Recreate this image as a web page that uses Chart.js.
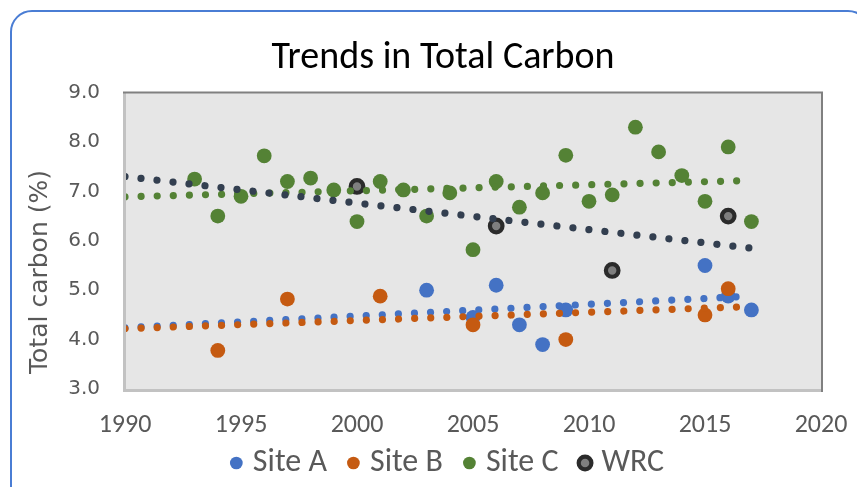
<!DOCTYPE html>
<html><head><meta charset="utf-8">
<script src="https://cdn.jsdelivr.net/npm/chart.js@4.4.1/dist/chart.umd.min.js"></script>
<style>
html,body{margin:0;padding:0;background:#fff;overflow:hidden;width:857px;height:487px;}
#card{position:absolute;left:10px;top:10px;width:860px;height:500px;border:2px solid #4A7DD4;border-radius:22px;box-sizing:border-box;}
#wrap{position:absolute;left:0;top:0;width:857px;height:507px;}
</style></head>
<body><div id="card"></div><div id="wrap"><canvas id="c" width="857" height="507"></canvas></div>
<script>
// ---- data ----
const chartTitle = "Trends in Total Carbon";
const yAxisTitle = "Total carbon (%)";
const seriesNames = ["Site A", "Site B", "Site C", "WRC"];

const siteAYears  = [2003, 2005, 2006, 2007, 2008, 2009, 2015, 2016, 2017];
const siteAValues = [5.0, 4.45, 5.1, 4.3, 3.9, 4.6, 5.5, 4.88, 4.6];

const siteBYears  = [1994, 1997, 2001, 2005, 2009, 2015, 2016];
const siteBValues = [3.78, 4.82, 4.88, 4.3, 4.0, 4.5, 5.03];

const siteCYears  = [1993, 1994, 1995, 1996, 1997, 1998, 1999, 2000, 2001, 2002, 2003, 2004, 2005,
                     2006, 2007, 2008, 2009, 2010, 2011, 2012, 2013, 2014, 2015, 2016, 2017];
const siteCValues = [7.25, 6.5, 6.9, 7.72, 7.2, 7.27, 7.03, 6.39, 7.2, 7.03, 6.5, 6.97, 5.82,
                     7.2, 6.68, 6.97, 7.73, 6.8, 6.93, 8.3, 7.8, 7.32, 6.8, 7.9, 6.39];

const wrcYears  = [2000, 2006, 2011, 2016];
const wrcValues = [7.1, 6.3, 5.4, 6.5];

// linear trendlines (endpoints)
const trendYears  = [1990, 2017];
const trendA      = [4.24, 4.88];
const trendB      = [4.22, 4.67];
const trendC      = [6.89, 7.22];
const trendWRC    = [7.30, 5.85];

const xTicks = [1990, 1995, 2000, 2005, 2010, 2015, 2020];
const yTicks = [3, 4, 5, 6, 7, 8, 9];

// ---- styling ----
const COL = { A: "#4472C4", B: "#C55A11", C: "#548235", W: "#333F50" };
const CAL = "Carlito, Lato, sans-serif";
const pts = (xs, ys) => xs.map((x, i) => ({ x, y: ys[i] }));

function scatterSet(label, xs, ys, color, order) {
  return { type: "scatter", label, data: pts(xs, ys), backgroundColor: color, borderColor: color,
           borderWidth: 0, pointRadius: 7.4, pointHoverRadius: 7.4, pointStyle: "circle", order };
}
function trendSet(label, ys, color, order) {
  return { type: "line", label, data: pts(trendYears, ys), borderColor: color, backgroundColor: color,
           borderWidth: 7.2, borderDash: [0.001, 16.1], borderCapStyle: "round", pointRadius: 0,
           fill: false, tension: 0, clip: 0, order, isTrend: true };
}

const datasets = [
  scatterSet(seriesNames[0], siteAYears, siteAValues, COL.A, 8),
  scatterSet(seriesNames[1], siteBYears, siteBValues, COL.B, 7),
  scatterSet(seriesNames[2], siteCYears, siteCValues, COL.C, 6),
  Object.assign(scatterSet(seriesNames[3], wrcYears, wrcValues, "#7F7F7F", 5),
                { borderColor: "#2B2B2B", borderWidth: 4.2, pointRadius: 6.3, pointHoverRadius: 6.3 }),
  trendSet("Trend A", trendA, COL.A, 4),
  trendSet("Trend B", trendB, COL.B, 3),
  trendSet("Trend C", trendC, COL.C, 2),
  trendSet("Trend WRC", trendWRC, COL.W, 1)
];

const plotFrame = {
  id: "plotFrame",
  afterLayout(chart) {
    // lift the legend row so it sits just under the year labels
    const lg = chart.legend;
    if (lg) { lg.top -= 18; lg.bottom -= 18; lg.left += 7; lg.right += 7; }
  },
  beforeDatasetsDraw(chart) {
    const { ctx, chartArea: a } = chart;
    ctx.save();
    ctx.fillStyle = "#E6E6E6";
    ctx.fillRect(a.left, a.top, a.right - a.left, a.bottom - a.top);
    ctx.restore();
  },
  afterDatasetsDraw(chart) {
    const { ctx, chartArea: a } = chart;
    ctx.save();
    ctx.lineCap = "butt";
    ctx.strokeStyle = "#C2C2C2"; ctx.lineWidth = 3;
    ctx.beginPath(); ctx.moveTo(a.left - 0.5, a.top); ctx.lineTo(a.left - 0.5, a.bottom + 1.5);
    ctx.lineTo(a.right, a.bottom + 1.5); ctx.stroke();
    ctx.strokeStyle = "#808080"; ctx.lineWidth = 2;
    ctx.beginPath(); ctx.moveTo(a.left - 2, a.top); ctx.lineTo(a.right + 1, a.top);
    ctx.lineTo(a.right + 1, a.bottom + 3); ctx.stroke();
    ctx.restore();
  },
  afterDraw(chart) {
    const { ctx } = chart;
    ctx.save();
    ctx.translate(40, 272);
    ctx.rotate(-Math.PI / 2);
    ctx.fillStyle = "#595959";
    ctx.font = "25px 'DejaVu Sans'";
    ctx.textAlign = "center";
    ctx.textBaseline = "middle";
    ctx.fillText(yAxisTitle, 0, 0);
    ctx.restore();
  }
};

new Chart(document.getElementById("c"), {
  type: "scatter",
  data: { datasets },
  plugins: [plotFrame],
  options: {
    responsive: false,
    animation: false,
    events: [],
    layout: { padding: { left: 65, right: 36, top: 0, bottom: 0 } },
    plugins: {
      tooltip: { enabled: false },
      title: {
        display: true, text: chartTitle, color: "#000000",
        font: { family: CAL, size: 38, weight: "normal", lineHeight: 1.2 },
        padding: { top: 36, bottom: 11 }
      },
      legend: {
        position: "bottom",
        labels: {
          usePointStyle: true, pointStyle: "circle", boxWidth: 1, boxHeight: 9, padding: 26,
          color: "#595959",
          font: { family: CAL, size: 32 },
          filter: (item, data) => !data.datasets[item.datasetIndex].isTrend,
          sort: (a, b) => a.datasetIndex - b.datasetIndex
        }
      }
    },
    scales: {
      x: {
        type: "linear", min: 1990, max: 2020, offset: false,
        grid: { display: false, drawTicks: false },
        border: { display: false },
        afterBuildTicks: s => { s.ticks = xTicks.map(v => ({ value: v })); },
        ticks: { color: "#595959", padding: 21, maxRotation: 0, autoSkip: false,
                 font: { family: CAL, size: 26, lineHeight: 1.2 },
                 callback: v => String(v) },
        afterFit: s => { s.height = 50; s.paddingLeft = 0; s.paddingRight = 0; }
      },
      y: {
        type: "linear", min: 3, max: 9,
        grid: { display: false, drawTicks: false },
        border: { display: false },
        afterBuildTicks: s => { s.ticks = yTicks.map(v => ({ value: v })); },
        ticks: { color: "#595959", padding: 25, autoSkip: false,
                 font: { family: "'DejaVu Sans'", size: 20 },
                 callback: v => Number(v).toFixed(1) },
        afterFit: s => { s.width = 60; }
      }
    }
  }
});
</script>
</body></html>
